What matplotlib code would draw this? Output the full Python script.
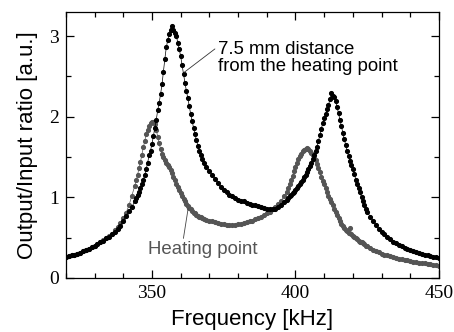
import numpy as np
import matplotlib
matplotlib.use("Agg")
import matplotlib.pyplot as plt
from matplotlib.ticker import MultipleLocator

# frequency grid [kHz]: 1 kHz steps, 0.5 kHz steps around the peaks
freq_a = np.arange(320, 345, 1.0)
freq_b = np.arange(344.5, 368.1, 0.5)
freq_c = np.arange(369, 398, 1.0)
freq_d = np.arange(397.5, 425.1, 0.5)
freq_e = np.arange(426, 451, 1.0)

# 7.5 mm distance from the heating point
far_a = [0.26, 0.27, 0.28, 0.29, 0.30, 0.31, 0.33, 0.34, 0.36, 0.38, 0.40, 0.42, 0.44,
         0.46, 0.49, 0.51, 0.54, 0.57, 0.61, 0.65, 0.71, 0.77, 0.83, 0.88, 0.95]
far_b = [0.99, 1.03, 1.07, 1.12, 1.17, 1.22, 1.28, 1.35, 1.43, 1.52,
         1.58, 1.66, 1.76, 1.86, 1.96, 2.08, 2.17, 2.28, 2.40, 2.56,
         2.72, 2.86, 2.95, 3.03, 3.08, 3.13, 3.07, 3.04, 3.00, 2.92,
         2.84, 2.75, 2.64, 2.53, 2.42, 2.32, 2.23, 2.13, 2.03, 1.95,
         1.86, 1.78, 1.71, 1.64, 1.58, 1.52, 1.47, 1.43]
far_c = [1.38, 1.33, 1.28, 1.23, 1.18, 1.13, 1.09, 1.06, 1.03, 1.01, 0.99, 0.97, 0.96,
         0.95, 0.93, 0.92, 0.91, 0.90, 0.89, 0.88, 0.87, 0.86, 0.85, 0.85, 0.86, 0.88,
         0.91, 0.94, 0.97]
far_d = [0.99, 1.01, 1.03, 1.05, 1.07, 1.09, 1.11, 1.14, 1.17, 1.19,
         1.22, 1.25, 1.28, 1.31, 1.35, 1.39, 1.43, 1.47, 1.52, 1.57,
         1.63, 1.70, 1.77, 1.85, 1.92, 1.98, 2.03, 2.09, 2.14, 2.22,
         2.29, 2.26, 2.24, 2.19, 2.12, 2.04, 1.96, 1.88, 1.80, 1.72,
         1.65, 1.57, 1.51, 1.45, 1.40, 1.35, 1.29, 1.22, 1.17, 1.12,
         1.06, 1.00, 0.95, 0.90, 0.86, 0.82]
far_e = [0.76, 0.71, 0.66, 0.61, 0.57, 0.54, 0.51, 0.48, 0.45, 0.43, 0.41, 0.39, 0.37,
         0.36, 0.34, 0.33, 0.32, 0.31, 0.30, 0.29, 0.28, 0.27, 0.26, 0.26, 0.25]

# heating point
heat_a = [0.26, 0.27, 0.28, 0.29, 0.30, 0.31, 0.33, 0.34, 0.36, 0.38, 0.40, 0.42, 0.44,
          0.47, 0.49, 0.52, 0.55, 0.59, 0.63, 0.68, 0.74, 0.81, 0.90, 1.02, 1.14]
heat_b = [1.21, 1.28, 1.36, 1.44, 1.53, 1.62, 1.70, 1.78, 1.84, 1.89,
          1.92, 1.94, 1.93, 1.91, 1.84, 1.75, 1.67, 1.60, 1.54, 1.50,
          1.46, 1.43, 1.40, 1.37, 1.34, 1.30, 1.25, 1.21, 1.17, 1.13,
          1.09, 1.05, 1.01, 0.98, 0.95, 0.92, 0.89, 0.87, 0.85, 0.83,
          0.81, 0.80, 0.78, 0.77, 0.76, 0.75, 0.74, 0.73]
heat_c = [0.72, 0.71, 0.70, 0.69, 0.68, 0.67, 0.67, 0.66, 0.66, 0.66, 0.66, 0.67, 0.67,
          0.68, 0.69, 0.70, 0.71, 0.73, 0.74, 0.76, 0.78, 0.80, 0.82, 0.85, 0.88, 0.92,
          0.96, 1.01, 1.07]
heat_d = [1.11, 1.16, 1.21, 1.27, 1.33, 1.38, 1.43, 1.47, 1.51, 1.54,
          1.57, 1.59, 1.60, 1.61, 1.60, 1.58, 1.55, 1.52, 1.49, 1.46,
          1.41, 1.36, 1.31, 1.25, 1.20, 1.16, 1.11, 1.06, 1.02, 0.98,
          0.94, 0.90, 0.86, 0.82, 0.78, 0.74, 0.70, 0.67, 0.64, 0.62,
          0.60, 0.58, 0.56, 0.62, 0.55, 0.52, 0.51, 0.49, 0.48, 0.46,
          0.45, 0.44, 0.43, 0.42, 0.40, 0.39]
heat_e = [0.37, 0.35, 0.33, 0.32, 0.30, 0.29, 0.28, 0.27, 0.26, 0.25, 0.24, 0.23, 0.22,
          0.22, 0.21, 0.20, 0.20, 0.19, 0.18, 0.18, 0.17, 0.17, 0.16, 0.16, 0.15]

freq = np.concatenate([freq_a, freq_b, freq_c, freq_d, freq_e])
far = np.concatenate([far_a, far_b, far_c, far_d, far_e])
heat = np.concatenate([heat_a, heat_b, heat_c, heat_d, heat_e])

sans = "Liberation Sans"
serif = "Liberation Serif"
gray = "#555555"

fig = plt.figure(figsize=(4.54, 3.32), dpi=100)
ax = fig.add_axes([0.145, 0.163, 0.822, 0.801])

ax.plot(freq, heat, color=gray, lw=0.5, marker="o", ms=2.7, mec=gray, mfc=gray)
ax.plot(freq, far, color="black", lw=0.5, marker="o", ms=2.7, mec="black", mfc="black")

ax.set_xlim(320, 450)
ax.set_ylim(0, 3.3)
ax.xaxis.set_major_locator(MultipleLocator(50))
ax.xaxis.set_minor_locator(MultipleLocator(10))
ax.yaxis.set_major_locator(MultipleLocator(1))
ax.yaxis.set_minor_locator(MultipleLocator(0.5))
ax.tick_params(which="both", direction="in", top=True, right=True, width=0.9)
ax.tick_params(which="major", length=6, labelsize=14, pad=5)
ax.tick_params(which="minor", length=3.5)
for lab in ax.get_xticklabels() + ax.get_yticklabels():
    lab.set_fontfamily(serif)
for s in ax.spines.values():
    s.set_linewidth(0.9)

ax.set_xlabel("Frequency [kHz]", fontsize=16, family=sans, labelpad=5)
ax.set_ylabel("Output/Input ratio [a.u.]", fontsize=16, family=sans, labelpad=8)

ax.annotate("7.5 mm distance\nfrom the heating point", xy=(361.2, 2.55), xytext=(372.9, 2.73),
            fontsize=13.4, family=sans, ha="left", va="center", linespacing=1.05,
            arrowprops=dict(arrowstyle="-", color="#333333", lw=0.6, shrinkA=0, shrinkB=0,
                            relpos=(-0.01, 0.78)))
ax.annotate("Heating point", xy=(362.6, 0.86), xytext=(348.6, 0.35),
            fontsize=13.4, family=sans, color=gray, ha="left", va="center",
            arrowprops=dict(arrowstyle="-", color="#444444", lw=0.6, shrinkA=0, shrinkB=0,
                            relpos=(0.32, 1.0)))

fig.savefig("out.png", dpi=100)
